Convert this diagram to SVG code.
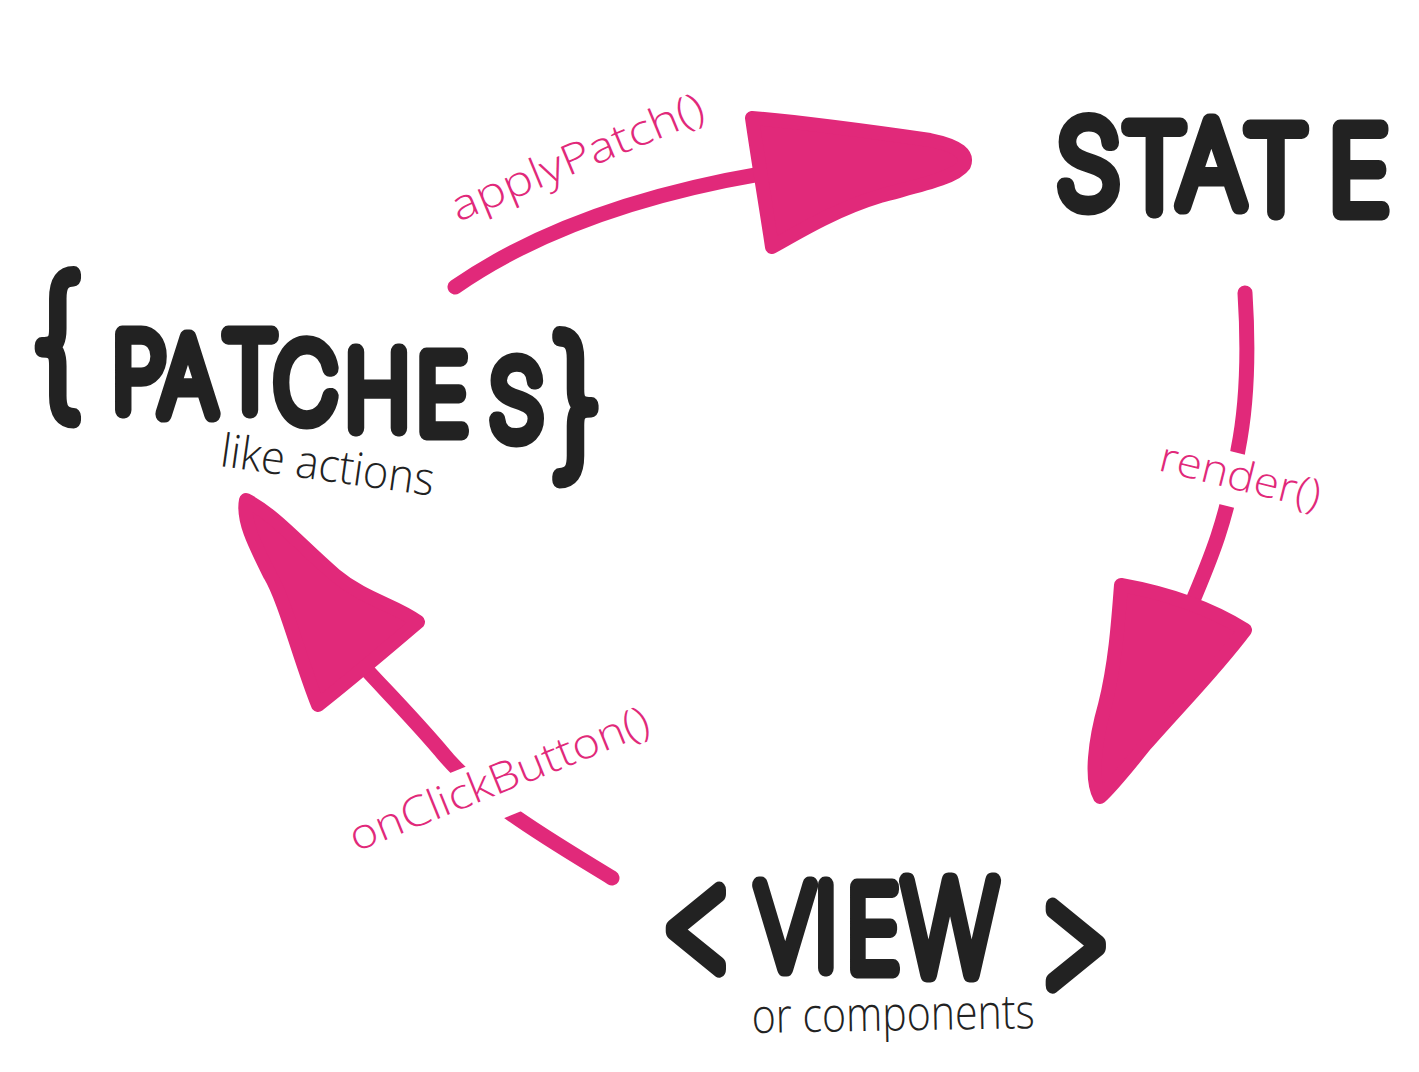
<svg xmlns="http://www.w3.org/2000/svg" width="1419" height="1072" viewBox="0 0 1419 1072">
  <style>
    .big { font-family: "Inter", "Roboto", "DejaVu Sans", sans-serif; font-weight: 100; fill: #222; stroke: #222; stroke-width: 17; stroke-linejoin: round; stroke-linecap: round; }
    .note { font-family: "Open Sans", "Lato", sans-serif; font-weight: 300; fill: #222; }
    .label { font-family: "Open Sans", "Lato", sans-serif; font-weight: 300; fill: #E1297A; }
    .gap { fill: #fff; }
    .shaft { fill: none; stroke: #E1297A; stroke-width: 15; stroke-linecap: round; stroke-linejoin: round; }
    .head { fill: #E1297A; stroke: #E1297A; stroke-width: 14; stroke-linejoin: round; }
  </style>
  <rect width="1419" height="1072" fill="#fff"/>

  <g id="connectors">
    <!-- patches -> state -->
    <path class="shaft" d="M455,287 C540,228 650,192 772,172"/>
    <path class="head" d="M752,118 C800,122 860,130 930,140 C960,146 968,155 964,165 C955,178 920,185 880,196 C840,208 805,228 772,247 C765,200 758,160 752,118 Z"/>
    <!-- state -> view -->
    <path class="shaft" d="M1245,293 C1250,370 1244,420 1238,450 C1228,520 1208,565 1188,612"/>
    <path class="head" d="M1121,585 C1160,592 1205,605 1245,630 C1215,670 1180,705 1145,745 C1125,770 1108,790 1100,797 C1090,780 1095,740 1105,705 C1115,665 1118,625 1121,585 Z"/>
    <!-- view -> patches -->
    <path class="shaft" d="M612,878 C550,840 480,800 440,750 C410,715 385,690 365,668"/>
    <path class="head" d="M246,500 C275,515 300,545 335,575 C365,600 395,605 418,622 C385,650 350,680 318,705 C300,660 285,600 270,575 C255,545 242,520 246,500 Z"/>
  </g>

  <g id="label-applyPatch" transform="translate(458,222) rotate(-22.5)">
    <text class="label" x="0" y="0" font-size="42" textLength="270" lengthAdjust="spacingAndGlyphs">applyPatch()</text>
  </g>
  <g id="label-render" transform="translate(1157,470) rotate(14)">
    <rect class="gap" x="-4" y="-36" width="172" height="54"/>
    <text class="label" x="0" y="0" font-size="42" textLength="165" lengthAdjust="spacingAndGlyphs">render()</text>
  </g>
  <g id="label-onClickButton" transform="translate(356,852) rotate(-22)">
    <rect class="gap" x="-4" y="-38" width="328" height="62"/>
    <text class="label" x="0" y="0" font-size="42" textLength="320" lengthAdjust="spacingAndGlyphs">onClickButton()</text>
  </g>

  <!-- marker lettering: thin face, fat round stroke, squeezed horizontally -->
  <g id="node-state">
    <text class="big" transform="scale(0.9 1)" font-size="116" x="1174 1247 1309 1382 1476" y="206 210 206 212 212">STATE</text>
  </g>

  <g id="node-patches">
    <text class="big" transform="scale(0.85 1)"><tspan font-size="160" x="36" y="398">{</tspan><tspan font-size="104" x="132 188 262 322 406 490 576" y="410 414 410 420 428 432 438">PATCHES</tspan><tspan font-size="160" x="646" y="458">}</tspan></text>
    <text class="note" x="0" y="0" font-size="46" textLength="215" lengthAdjust="spacingAndGlyphs" transform="translate(219,466) rotate(8)">like actions</text>
  </g>

  <g id="node-view">
    <text class="big" transform="scale(0.8 1)"><tspan font-size="150" x="825" y="972">&lt;</tspan><tspan font-size="114" x="945 1018 1058" y="968 968 970">VIE</tspan><tspan font-size="128" x="1128" y="974">W</tspan><tspan font-size="150" x="1294" y="988">&gt;</tspan></text>
    <text class="note" x="0" y="0" font-size="48" textLength="283" lengthAdjust="spacingAndGlyphs" transform="translate(752,1033) rotate(-1)">or components</text>
  </g>
</svg>
